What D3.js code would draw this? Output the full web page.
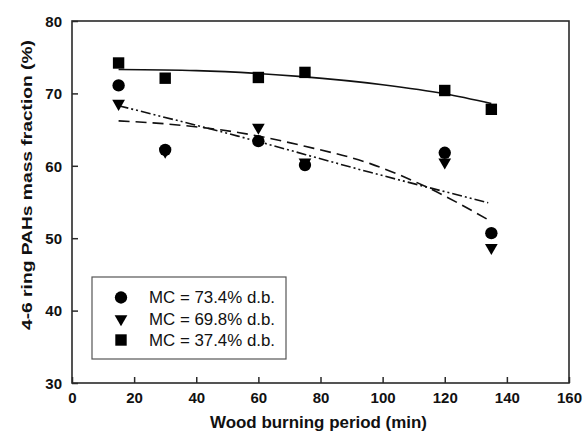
<!DOCTYPE html>
<html>
<head>
<meta charset="utf-8">
<script src="https://cdn.jsdelivr.net/npm/d3@7"></script>
<style>
  html, body { margin: 0; padding: 0; background: #fff; }
  svg { display: block; font-family: "Liberation Sans", Arial, sans-serif; }
</style>
</head>
<body>
<svg id="chart" width="584" height="442"></svg>
<script>
// Measured 4-6 ring PAH mass fraction (%) over the burning period (min)
const timeMin = [15, 30, 60, 75, 120, 135];
const mc734 = [71.1, 62.2, 63.4, 60.1, 61.8, 50.7];
const mc698 = [68.6, 62.0, 65.3, 60.5, 60.5, 48.7];
const mc374 = [74.2, 72.1, 72.2, 72.9, 70.4, 67.8];

// Fitted trend curves, sampled along the time axis
const fitX374 = [15, 40, 73, 100, 120, 135];
const fit374 = [73.3, 73.15, 72.35, 71.2, 69.95, 68.6];
const fitX734 = [15, 30, 53.5, 75, 96, 114, 135];
const fit734 = [66.2, 65.8, 64.6, 62.7, 60.3, 57.1, 52.3];
const fitX698 = [15, 53.4, 96, 134];
const fit698 = [68.3, 64.1, 59.1, 54.9];

const xTicks = [0, 20, 40, 60, 80, 100, 120, 140, 160];
const yTicks = [30, 40, 50, 60, 70, 80];
const legendLabels = ["MC = 73.4% d.b.", "MC = 69.8% d.b.", "MC = 37.4% d.b."];

const svg = d3.select("#chart");
const L = 72, R = 569, T = 21, B = 383;
const axisColor = "#2a2a2a";

const x = d3.scaleLinear().domain([0, 160]).range([L, R]);
const y = d3.scaleLinear().domain([30, 80]).range([B, T]);

// Axes with inward ticks
const xAxis = svg.append("g").attr("transform", `translate(0,${B})`)
  .call(d3.axisBottom(x).tickValues(xTicks).tickSize(-6).tickPadding(9).tickFormat(d3.format("d")));
const yAxis = svg.append("g").attr("transform", `translate(${L},0)`)
  .call(d3.axisLeft(y).tickValues(yTicks).tickSize(-6).tickPadding(10).tickFormat(d3.format("d")));
[xAxis, yAxis].forEach(g => {
  g.select(".domain").remove();
  g.selectAll(".tick line").attr("stroke", axisColor).attr("stroke-width", 1.5);
  g.selectAll(".tick text").attr("fill", "#111").attr("font-size", 15).attr("font-weight", "bold")
    .attr("font-family", "Liberation Sans, Arial, sans-serif");
});
yAxis.selectAll(".tick text").attr("dy", "0.35em");

// Frame
svg.append("rect").attr("x", L).attr("y", T).attr("width", R - L).attr("height", B - T)
  .attr("fill", "none").attr("stroke", axisColor).attr("stroke-width", 1.6);

// Axis titles
svg.append("text").attr("x", 318.5).attr("y", 428).attr("text-anchor", "middle")
  .attr("font-size", 16).attr("font-weight", "bold").attr("fill", "#111")
  .attr("textLength", 217).attr("lengthAdjust", "spacingAndGlyphs")
  .text("Wood burning period (min)");
svg.append("text").attr("transform", `translate(32,185) rotate(-90)`)
  .attr("text-anchor", "middle").attr("font-size", 15).attr("font-weight", "bold").attr("fill", "#111")
  .attr("textLength", 290).attr("lengthAdjust", "spacingAndGlyphs")
  .text("4-6 ring PAHs mass fraction (%)");

// Trend curves
const line = d3.line().x(d => x(d[0])).y(d => y(d[1])).curve(d3.curveMonotoneX);
const curves = [
  { xs: fitX374, ys: fit374, dash: null },
  { xs: fitX734, ys: fit734, dash: "11,6" },
  { xs: fitX698, ys: fit698, dash: "10,3,2,3,2,3" }
];
curves.forEach(c => {
  svg.append("path").datum(d3.zip(c.xs, c.ys)).attr("d", line)
    .attr("fill", "none").attr("stroke", "#111").attr("stroke-width", 1.6)
    .attr("stroke-dasharray", c.dash);
});

// Markers
const sym = {
  circle: d3.symbol().type(d3.symbolCircle).size(120),
  tri: d3.symbol().type(d3.symbolTriangle).size(70),
  square: d3.symbol().type(d3.symbolSquare).size(130)
};
function drawMarkers(vals, kind) {
  svg.append("g").selectAll("path").data(d3.zip(timeMin, vals)).join("path")
    .attr("d", sym[kind]())
    .attr("transform", d => `translate(${x(d[0])},${y(d[1])})` + (kind === "tri" ? " rotate(180)" : ""))
    .attr("fill", "#000");
}
drawMarkers(mc698, "tri");
drawMarkers(mc734, "circle");
drawMarkers(mc374, "square");

// Legend
const lg = svg.append("g");
lg.append("rect").attr("x", 92).attr("y", 277).attr("width", 194).attr("height", 82)
  .attr("fill", "#fff").attr("stroke", "#555").attr("stroke-width", 1.2);
const kinds = ["circle", "tri", "square"];
const rowsY = [297.5, 319, 340];
kinds.forEach((k, i) => {
  lg.append("path").attr("d", sym[k]())
    .attr("transform", `translate(121,${rowsY[i]})` + (k === "tri" ? " rotate(180)" : ""))
    .attr("fill", "#000");
  lg.append("text").attr("x", 149).attr("y", rowsY[i]).attr("dy", "0.35em")
    .attr("font-size", 16).attr("fill", "#111")
    .attr("textLength", 126).attr("lengthAdjust", "spacingAndGlyphs")
    .text(legendLabels[i]);
});
</script>
</body>
</html>
